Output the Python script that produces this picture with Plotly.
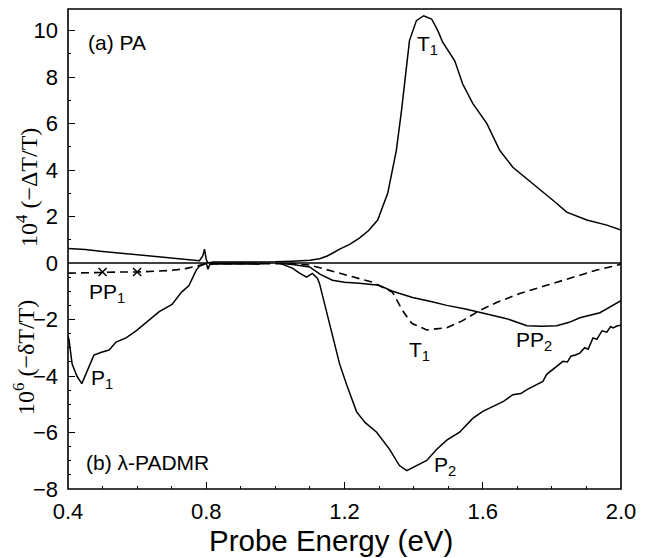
import plotly.graph_objects as go

# ---------------- data ----------------
# (a) PA spectrum, 10^4 (-dT/T)
pa_energy = [0.40, 0.45, 0.50, 0.55, 0.60, 0.65, 0.70, 0.75, 0.78, 0.79, 0.795, 0.80, 0.805,
             0.82, 0.85, 0.90, 0.95, 1.00, 1.05, 1.10, 1.128, 1.15, 1.165, 1.186, 1.215, 1.243,
             1.27, 1.296, 1.325, 1.35, 1.365, 1.38, 1.388, 1.408, 1.429, 1.452, 1.47, 1.484,
             1.519, 1.542, 1.571, 1.612, 1.649, 1.687, 1.745, 1.803, 1.843, 1.901, 1.959, 2.0]
pa_signal = [0.62, 0.58, 0.50, 0.43, 0.36, 0.28, 0.21, 0.14, 0.10, 0.30, 0.60, 0.15, 0.0,
             0.04, 0.04, 0.04, 0.04, 0.05, 0.08, 0.12, 0.18, 0.30, 0.42, 0.60, 0.80, 1.07,
             1.40, 1.85, 3.0, 4.85, 6.57, 8.7, 9.57, 10.43, 10.64, 10.5, 10.0, 9.5,
             8.7, 7.7, 6.87, 6.0, 4.85, 4.12, 3.43, 2.7, 2.19, 1.85, 1.63, 1.42]

# (b) lambda-PADMR, 10^6 (-dT/T)
p_energy = [0.400, 0.403, 0.412, 0.426, 0.440, 0.452, 0.467, 0.475, 0.499, 0.519, 0.539, 0.568,
            0.597, 0.626, 0.664, 0.701, 0.728, 0.750, 0.771, 0.780, 0.790, 0.800, 0.805, 0.810,
            0.830, 0.880, 0.950, 1.000, 1.020, 1.049, 1.070, 1.090, 1.107, 1.122, 1.128, 1.148,
            1.165, 1.186, 1.206, 1.220, 1.235, 1.260, 1.293, 1.330, 1.359, 1.380, 1.395, 1.409,
            1.438, 1.467, 1.496, 1.533, 1.571, 1.600, 1.629, 1.660, 1.687, 1.710, 1.728, 1.750,
            1.774, 1.785, 1.810, 1.832, 1.845, 1.855, 1.870, 1.881, 1.895, 1.905, 1.919, 1.930,
            1.945, 1.959, 1.970, 1.977, 1.990, 2.000]
p_signal = [-2.60, -2.72, -3.58, -4.01, -4.27, -3.94, -3.51, -3.26, -3.15, -3.08, -2.80, -2.65,
            -2.40, -2.10, -1.72, -1.47, -1.04, -0.80, -0.25, -0.12, -0.05, 0.0, -0.22, -0.05,
            -0.03, -0.03, -0.04, 0.05, -0.05, -0.18, -0.36, -0.50, -0.37, -0.55, -0.74, -1.72,
            -2.65, -3.58, -4.30, -4.80, -5.27, -5.65, -5.99, -6.59, -7.17, -7.35, -7.25, -7.17,
            -6.99, -6.59, -6.27, -5.99, -5.50, -5.25, -5.09, -4.90, -4.66, -4.62, -4.48, -4.35,
            -4.19, -3.94, -3.70, -3.48, -3.50, -3.30, -3.25, -3.19, -3.00, -3.05, -2.65, -2.70,
            -2.40, -2.45, -2.25, -2.30, -2.22, -2.20]

pp2_energy = [1.0, 1.05, 1.099, 1.13, 1.165, 1.2, 1.243, 1.30, 1.339, 1.397, 1.45, 1.496, 1.55,
              1.591, 1.63, 1.669, 1.70, 1.728, 1.77, 1.814, 1.85, 1.881, 1.939, 1.97, 2.0]
pp2_signal = [0.0, -0.05, -0.14, -0.40, -0.61, -0.68, -0.72, -0.79, -1.0, -1.22, -1.36, -1.5, -1.63,
              -1.76, -1.86, -1.97, -2.10, -2.22, -2.24, -2.22, -2.10, -1.94, -1.76, -1.55, -1.33]

dash_energy = [0.40, 0.45, 0.50, 0.55, 0.60, 0.65, 0.70, 0.74, 0.77, 0.80, 0.90, 1.00, 1.05, 1.099,
               1.186, 1.281, 1.339, 1.368, 1.388, 1.397, 1.438, 1.496, 1.542, 1.591, 1.64, 1.707,
               1.785, 1.861, 1.93, 1.968, 2.0]
dash_signal = [-0.36, -0.34, -0.32, -0.32, -0.32, -0.30, -0.26, -0.20, -0.12, -0.03, -0.02, -0.02,
               -0.03, -0.07, -0.36, -0.68, -1.04, -1.68, -2.04, -2.15, -2.37, -2.29, -2.04, -1.68,
               -1.40, -1.08, -0.79, -0.50, -0.25, -0.14, -0.04]

pp1_marker_energy = [0.5, 0.6]
pp1_marker_signal = [-0.32, -0.32]

top_ticks = [0, 2, 4, 6, 8, 10]
bottom_ticks = [-8, -6, -4, -2]
x_ticks = [0.4, 0.8, 1.2, 1.6, 2.0]
x_tick_labels = ["0.4", "0.8", "1.2", "1.6", "2.0"]

# ---------------- figure ----------------
# page body has an 8px margin; figure is sized/offset to compensate
W, H = 644, 550
L, R, T, B = 60, 31, 1, 69
PW, PH = W - L - R, H - T - B
zero_px = 255  # y of the shared zero line in figure pixels
split = (H - B - zero_px) / PH


def px(xf):
    return (xf - L) / PW


def py(yf):
    return (H - B - yf) / PH


fig = go.Figure()
line_style = dict(color="black", width=1.5)

fig.add_trace(go.Scatter(x=pa_energy, y=pa_signal, mode="lines", line=line_style,
                         xaxis="x", yaxis="y", showlegend=False))
fig.add_trace(go.Scatter(x=p_energy, y=p_signal, mode="lines", line=line_style,
                         xaxis="x", yaxis="y2", showlegend=False))
fig.add_trace(go.Scatter(x=pp2_energy, y=pp2_signal, mode="lines", line=line_style,
                         xaxis="x", yaxis="y2", showlegend=False))
fig.add_trace(go.Scatter(x=dash_energy, y=dash_signal, mode="lines",
                         line=dict(color="black", width=1.6, dash="8px,5px"),
                         xaxis="x", yaxis="y2", showlegend=False))
fig.add_trace(go.Scatter(x=pp1_marker_energy, y=pp1_marker_signal, mode="markers",
                         marker=dict(symbol="x-thin", size=8, line=dict(color="black", width=1.5)),
                         xaxis="x", yaxis="y2", showlegend=False))

tick_font = dict(family="Liberation Sans, Arial, sans-serif", size=22, color="black")

fig.update_layout(
    width=W, height=H,
    margin=dict(l=L, r=R, t=T, b=B, autoexpand=False),
    paper_bgcolor="white", plot_bgcolor="white",
    xaxis=dict(domain=[0, 1], anchor="y2", range=[0.4, 2.0],
               tickvals=x_ticks, ticktext=x_tick_labels,
               ticks="inside", ticklen=7, tickwidth=1.2, tickcolor="black",
               minor=dict(dtick=0.1, tick0=0.4, ticks="inside", ticklen=3, tickcolor="black"),
               showgrid=False, zeroline=False, showline=False,
               tickfont=tick_font, ticklabelstandoff=7),
    yaxis=dict(domain=[split, 1], anchor="x", range=[0, 10.93],
               tickvals=top_ticks, ticks="inside", ticklen=7, tickwidth=1.2, tickcolor="black",
               minor=dict(dtick=1, tick0=0, ticks="inside", ticklen=3, tickcolor="black"),
               showgrid=False, zeroline=False, showline=False,
               tickfont=tick_font, ticklabelstandoff=9),
    yaxis2=dict(domain=[0, split], anchor="x", range=[-8, 0],
                tickvals=bottom_ticks, ticks="inside", ticklen=7, tickwidth=1.2, tickcolor="black",
                minor=dict(dtick=0.5, tick0=0, ticks="inside", ticklen=3, tickcolor="black"),
                showgrid=False, zeroline=False, showline=False,
                tickfont=tick_font, ticklabelstandoff=9),
    shapes=[
        dict(type="rect", xref="paper", yref="paper", x0=0, x1=1, y0=0, y1=1,
             line=dict(color="black", width=1.6)),
        dict(type="line", xref="paper", yref="paper", x0=0, x1=1, y0=split, y1=split,
             line=dict(color="black", width=1.6)),
    ],
)

lab_font = dict(family="Liberation Sans, Arial, sans-serif", size=21, color="black")
serif_font = dict(family="Liberation Serif, Times New Roman, serif", size=24, color="black")


def lab(text, x, y, yref, xanchor="center"):
    return dict(text=text, x=x, y=y, xref="x", yref=yref, xanchor=xanchor, yanchor="middle",
                showarrow=False, font=lab_font)


annotations = [
    lab("(a) PA", 0.452, 9.5, "y", "left"),
    lab("(b) λ-PADMR", 0.446, -7.05, "y2", "left"),
    lab("T<sub>1</sub>", 1.44, 9.4, "y"),
    lab("T<sub>1</sub>", 1.417, -3.1, "y2"),
    lab("PP<sub>2</sub>", 1.748, -2.75, "y2"),
    lab("PP<sub>1</sub>", 0.513, -1.05, "y2"),
    lab("P<sub>1</sub>", 0.499, -4.1, "y2"),
    lab("P<sub>2</sub>", 1.49, -7.2, "y2"),
    dict(text="Probe Energy (eV)", x=px(323), y=py(532), xref="paper", yref="paper",
         xanchor="center", yanchor="middle", showarrow=False,
         font=dict(family="Liberation Sans, Arial, sans-serif", size=29.5, color="black")),
    dict(text="10<sup>4</sup> (−ΔT/T)", x=px(19), y=py(180), xref="paper", yref="paper",
         xanchor="center", yanchor="middle", textangle=-90, showarrow=False, font=serif_font),
    dict(text="10<sup>6</sup> (−δT/T)", x=px(16), y=py(350), xref="paper", yref="paper",
         xanchor="center", yanchor="middle", textangle=-90, showarrow=False, font=serif_font),
]
fig.update_layout(annotations=annotations)

fig.write_html("out.html")
